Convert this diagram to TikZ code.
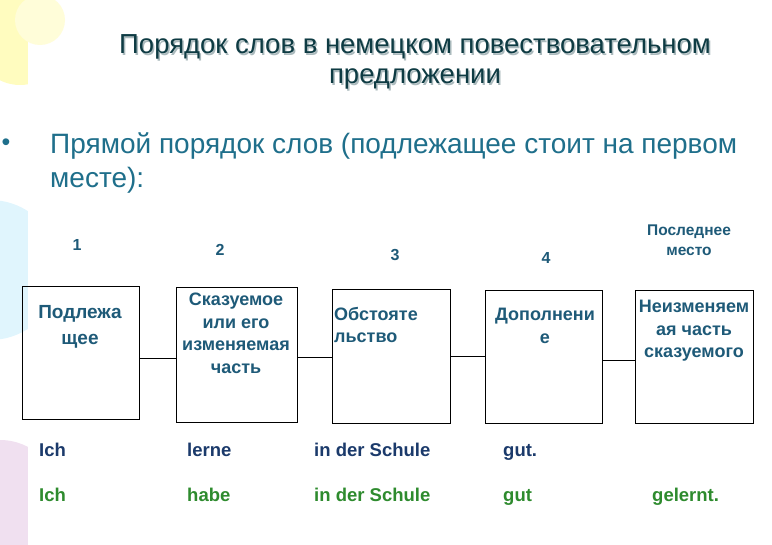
\documentclass[tikz,border=0pt]{standalone}
\usepackage{fontspec}
\setmainfont{Liberation Sans}
\definecolor{ttl}{HTML}{0E3B43}
\definecolor{body}{HTML}{1F6F8B}
\definecolor{bx}{HTML}{1E5A78}
\definecolor{dk}{HTML}{1B3A6B}
\definecolor{gr}{HTML}{2E8B2E}
\tikzset{
 box/.style={draw,line width=0.8pt,minimum width=#1,anchor=north west,inner sep=0pt},
 bt/.style={text=bx,font=\fontsize{18}{22.5}\selectfont\bfseries,align=center,anchor=north,inner sep=0pt},
 num/.style={text=bx,font=\fontsize{16}{18}\selectfont\bfseries},
 w1/.style={text=dk,font=\fontsize{18.5}{19}\selectfont\bfseries,anchor=base west,inner sep=0pt},
 w2/.style={text=gr,font=\fontsize{18.5}{19}\selectfont\bfseries,anchor=base west,inner sep=0pt},
 con/.style={line width=0.6pt}
}
\begin{document}
\begin{tikzpicture}[x=1pt,y=-1pt]
\useasboundingbox (0,0) rectangle (772,545);
\fill[yellow!25] (20,40) circle (45);
\fill[cyan!12] (-10,270) circle (70);
\fill[violet!12] (0,500) circle (60);
\fill[white] (28,0) rectangle (772,545);
\fill[yellow!15] (40,20) circle (25);
\node[text=ttl!35,font=\fontsize{27.5}{30}\selectfont,align=center] at (416.5,63.5) {Порядок слов в немецком повествовательном\\предложении};
\node[text=ttl,font=\fontsize{27.5}{30}\selectfont,align=center] (t) at (415,62) {Порядок слов в немецком повествовательном\\предложении};
\node[text=body,font=\fontsize{28}{34}\selectfont,anchor=north west,align=left,inner sep=0pt] (s) at (50,133) {Прямой порядок слов (подлежащее стоит на первом\\месте):};
\node[text=body,font=\fontsize{25}{32}\selectfont] (bul) at (6,145) {•};
\node[num] (n1) at (77,245) {1};
\node[num] (n2) at (220,250) {2};
\node[num] (n3) at (395,255) {3};
\node[num] (n4) at (546,258) {4};
\node[num,align=center,font=\fontsize{15.5}{20}\selectfont\bfseries] (n5) at (689,240) {Последнее\\место};
\node[box=117pt,minimum height=133pt] (b1) at (22,286) {};
\node[box=121pt,minimum height=135pt] (b2) at (176,287) {};
\node[box=118pt,minimum height=134pt] (b3) at (332,289) {};
\node[box=117pt,minimum height=133pt] (b4) at (485,290) {};
\node[box=118pt,minimum height=133pt] (b5) at (635,290) {};
\node[bt,font=\fontsize{19}{26}\selectfont\bfseries] at (80,305) {Подлежа\\щее};
\node[bt] at (236,293) {Сказуемое\\или его\\изменяемая\\часть};
\node[bt,anchor=north west,align=left] at (334,307) {Обстояте\\льство};
\node[bt] at (545,308) {Дополнени\\е};
\node[bt] at (694,300) {Неизменяем\\ая часть\\сказуемого};
\draw[con] (b1.east|-0,358) -- (b2.west|-0,358);
\draw[con] (b2.east|-0,357) -- (b3.west|-0,357);
\draw[con] (b3.east|-0,356) -- (b4.west|-0,356);
\draw[con] (b4.east|-0,360) -- (b5.west|-0,360);
\node[w1] at (39,457) {Ich};
\node[w1] at (187,457) {lerne};
\node[w1] at (314,457) {in der Schule};
\node[w1] at (503,457) {gut.};
\node[w2] at (39,501) {Ich};
\node[w2] at (187,501) {habe};
\node[w2] at (314,501) {in der Schule};
\node[w2] at (503,501) {gut};
\node[w2] at (652,501) {gelernt.};
\end{tikzpicture}
\end{document}
